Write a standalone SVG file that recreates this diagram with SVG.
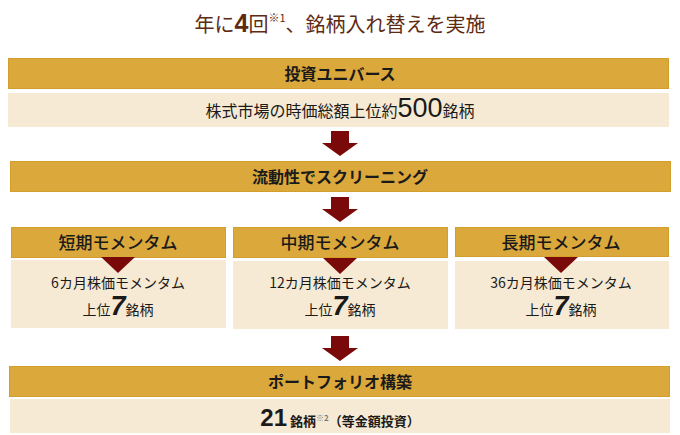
<svg xmlns="http://www.w3.org/2000/svg" width="680" height="435" viewBox="0 0 680 435">
<defs>
<style>
.gold{fill:#DBA83C;stroke:#D39E2C;stroke-width:1}
.beige{fill:#F6EAD4}
.arrow{fill:#7A0A0A}
text{font-family:"Noto Sans CJK JP","Noto Sans",sans-serif;fill:#1a1a1a}
.h{font-size:16px;font-weight:700;text-anchor:middle}
.b{font-size:16px;text-anchor:middle}
.c{font-size:14px;text-anchor:middle}
.num{font-family:"Liberation Sans","Noto Sans",sans-serif;font-weight:700}
</style>
<path id="downArrow" d="M-9,0 H9 V12 H18 L0,25 L-18,12 H-9 Z"/>
</defs>
<rect width="680" height="435" fill="#ffffff"/>
<g id="title">
<text x="340" y="32" text-anchor="middle" style="font-size:20px;fill:#5E2B12">年に<tspan class="num" style="font-size:25px;fill:#5E2B12">4</tspan>回<tspan style="font-size:11px;fill:#5E2B12" dy="-10">※1</tspan><tspan dy="10" style="fill:#5E2B12">、銘柄入れ替えを実施</tspan></text>
</g>
<g id="universe">
<rect class="gold" x="8.5" y="58.5" width="660" height="30"/>
<text class="h" x="340" y="80">投資ユニバース</text>
<rect class="beige" x="8" y="93" width="661" height="34"/>
<text class="b" x="340" y="117">株式市場の時価総額上位約<tspan style="font-family:'Liberation Sans','Noto Sans',sans-serif;font-size:27px">500</tspan>銘柄</text>
</g>
<g id="screening">
<rect class="gold" x="10.5" y="161.5" width="660" height="30"/>
<text class="h" x="340" y="183">流動性でスクリーニング</text>
</g>
<g id="short">
<rect class="gold" x="11.5" y="227.5" width="214" height="30"/>
<rect class="beige" x="11" y="260" width="215" height="68"/>
<text class="h" x="118" y="249" style="font-size:17px;font-weight:500">短期モメンタム</text>
<text class="c" x="118" y="288">6カ月株価モメンタム</text>
<text class="c" x="118" y="315">上位<tspan class="num" style="font-size:27px;font-style:italic">7</tspan>銘柄</text>
</g>
<g id="mid">
<rect class="gold" x="233.5" y="227.5" width="214" height="30"/>
<rect class="beige" x="233" y="261" width="215" height="68"/>
<text class="h" x="340" y="249" style="font-size:17px;font-weight:500">中期モメンタム</text>
<text class="c" x="340" y="288">12カ月株価モメンタム</text>
<text class="c" x="340" y="315">上位<tspan class="num" style="font-size:27px;font-style:italic">7</tspan>銘柄</text>
</g>
<g id="long">
<rect class="gold" x="455.5" y="227.5" width="213" height="29"/>
<rect class="beige" x="455" y="261" width="214" height="68"/>
<text class="h" x="561" y="249" style="font-size:17px;font-weight:500">長期モメンタム</text>
<text class="c" x="561" y="288">36カ月株価モメンタム</text>
<text class="c" x="561" y="315">上位<tspan class="num" style="font-size:27px;font-style:italic">7</tspan>銘柄</text>
</g>
<g id="portfolio">
<rect class="gold" x="9.5" y="366.5" width="660" height="30"/>
<text class="h" x="340" y="388">ポートフォリオ構築</text>
<rect class="beige" x="10" y="399" width="660" height="34"/>
<text x="340" y="426" text-anchor="middle" style="font-size:13px;font-weight:700"><tspan class="num" style="font-size:24px">21</tspan> 銘柄<tspan style="font-size:8px;fill:#777" dy="-5">※2</tspan><tspan dy="5">（等金額投資）</tspan></text>
</g>
<g id="connectors">
<use href="#downArrow" class="arrow" x="340" y="131"/>
<use href="#downArrow" class="arrow" x="340" y="197"/>
<use href="#downArrow" class="arrow" x="340" y="336"/>
<polygon class="arrow" points="101,257 135,257 118,273"/>
<polygon class="arrow" points="323,258 357,258 340,274"/>
<polygon class="arrow" points="544,257 578,257 561,273"/>
</g>
</svg>
